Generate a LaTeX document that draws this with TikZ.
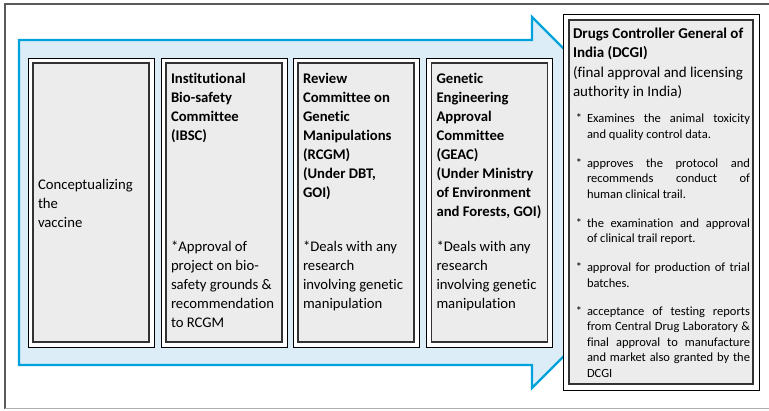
\documentclass[tikz,border=0pt]{standalone}
\usepackage{fontspec}
\setmainfont{Carlito}[RawFeature={-liga}]
\usepackage{tikz}
\usetikzlibrary{positioning}
\definecolor{flowBlue}{RGB}{0, 162, 220}
\definecolor{flowFill}{RGB}{221, 237, 248}
\definecolor{stageGray}{RGB}{236, 236, 236}
\definecolor{stageEdge}{RGB}{50, 50, 50}
\definecolor{pageDark}{RGB}{90, 90, 90}
\definecolor{pageLight}{RGB}{175, 175, 175}

\begin{document}
\begin{tikzpicture}[
    x=1pt, y=-1pt,
    every node/.style={inner sep=0pt, outer sep=0pt},
    frame/.style={rectangle, draw=black, fill=white, line width=0.8pt, minimum width=126pt, minimum height=289pt},
    stage/.style={rectangle, draw=stageEdge, fill=stageGray, line width=1.3pt, minimum width=116pt, minimum height=279pt},
    stagetitle/.style={align=left, font=\fontsize{14.7}{19}\selectfont\bfseries},
    stagetext/.style={align=left, font=\fontsize{14.7}{19}\selectfont},
    dcgihead/.style={align=left, font=\fontsize{15}{19.5}\selectfont},
    dcgiitem/.style={text width=163pt, align=justify, font=\fontsize{12.5}{15.5}\selectfont},
    flow/.style={draw=flowBlue, fill=flowFill, line width=2.4pt, line join=miter},
]
\useasboundingbox (0,0) rectangle (769,410);
% page edge
\draw[pageDark, line width=1.2pt] (769,4) -- (5,4) -- (5,408.5);
\draw[pageLight, line width=1.2pt] (5,408.5) -- (769,408.5);
% big arrow
\draw[flow] (19,40) -- (532,40) -- (532,17) -- (717.5,202.5) -- (532,388) -- (532,365) -- (19,365) -- cycle;
% stage boxes
\node[frame] (f1) at (91,202.5) {};
\node[stage] (s1) at (f1.center) {};
\node[frame] (f2) at (224,202.5) {};
\node[stage] (s2) at (f2.center) {};
\node[frame] (f3) at (356,202.5) {};
\node[stage] (s3) at (f3.center) {};
\node[frame] (f4) at (489.5,202.5) {};
\node[stage] (s4) at (f4.center) {};
\node[frame, minimum width=196pt, minimum height=376pt] (df) at (661,202) {};
\node[stage, minimum width=184pt, minimum height=364pt] (dcgi) at (df.center) {};
% stage texts
\node[stagetext, below right=112.7pt and 5pt of s1.north west] (idea) {\strut Conceptualizing\\the\\vaccine};
\node[stagetitle, below right=6.7pt and 5pt of s2.north west] (ibsc) {\strut Institutional\\Bio-safety\\Committee\\(IBSC)};
\node[stagetext, below right=174.7pt and 5pt of s2.north west] (ibscnote) {\strut *Approval of\\project on bio-\\safety grounds \&\\recommendation\\to RCGM};
\node[stagetitle, below right=6.7pt and 5pt of s3.north west] (rcgm) {\strut Review\\Committee on\\Genetic\\Manipulations\\(RCGM)\\(Under DBT,\\GOI)};
\node[stagetext, below right=174.7pt and 5pt of s3.north west] (rcgmnote) {\strut *Deals with any\\research\\involving genetic\\manipulation};
\node[stagetitle, below right=6.7pt and 5pt of s4.north west] (geac) {\strut Genetic\\Engineering\\Approval\\Committee\\(GEAC)\\(Under Ministry\\of Environment\\and Forests, GOI)};
\node[stagetext, below right=174.7pt and 5pt of s4.north west] (geacnote) {\strut *Deals with any\\research\\involving genetic\\manipulation};
% DCGI
\node[dcgihead, below right=4.4pt and 4pt of dcgi.north west] (dhead) {\strut\textbf{Drugs Controller General of}\\\textbf{India (DCGI)}\\(final approval and licensing\\authority in India)\strut};
\node[dcgiitem, below right=9.3pt and 14pt of dhead.south west] (b1) {\noindent\strut\llap{*\hspace{5pt}}Examines the animal toxicity\linebreak and quality control data.\strut};
\node[dcgiitem, below right=13.5pt and 0pt of b1.south west] (b2) {\noindent\strut\llap{*\hspace{5pt}}approves the protocol and\linebreak recommends conduct of\linebreak human clinical trail.\strut};
\node[dcgiitem, below right=13.5pt and 0pt of b2.south west] (b3) {\noindent\strut\llap{*\hspace{5pt}}the examination and approval\linebreak of clinical trail report.\strut};
\node[dcgiitem, below right=13.5pt and 0pt of b3.south west] (b4) {\noindent\strut\llap{*\hspace{5pt}}approval for production of trial\linebreak batches.\strut};
\node[dcgiitem, below right=12.5pt and 0pt of b4.south west] (b5) {\noindent\strut\llap{*\hspace{5pt}}acceptance of testing reports\linebreak from Central Drug Laboratory \&\linebreak final approval to manufacture\linebreak and market also granted by the\linebreak DCGI\strut};
\end{tikzpicture}
\end{document}
